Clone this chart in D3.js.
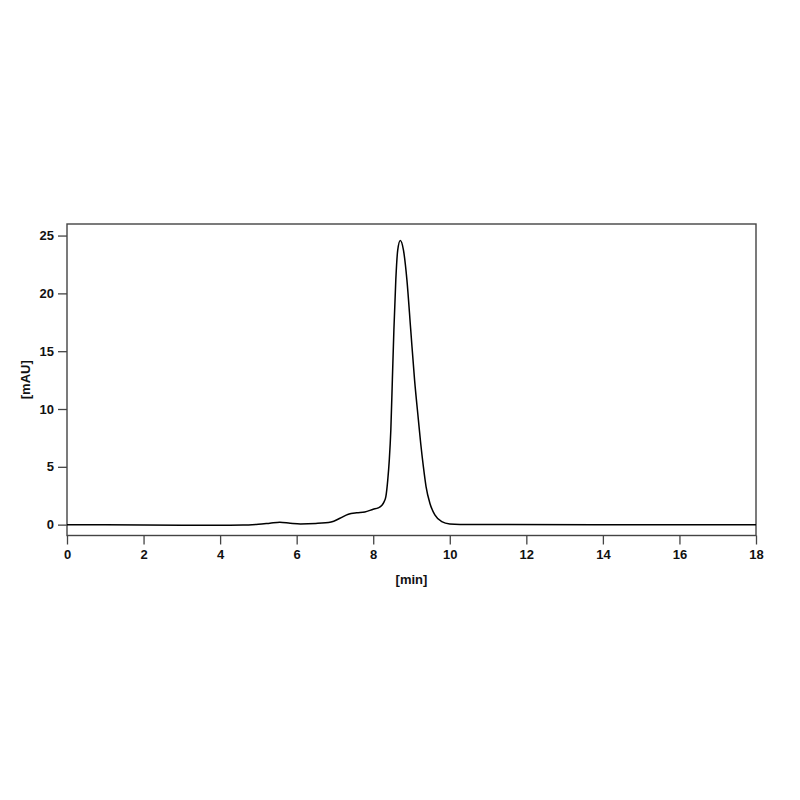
<!DOCTYPE html>
<html>
<head>
<meta charset="utf-8">
<script src="https://cdn.jsdelivr.net/npm/d3@7"></script>
<style>
  html, body { margin: 0; padding: 0; background: #fff; }
  svg { display: block; }
  text { font-family: "Liberation Sans", Arial, sans-serif; font-weight: bold; fill: #111; }
</style>
</head>
<body>
<svg id="chart" width="800" height="800"></svg>
<script>
// Chromatogram trace: retention time [min] and absorbance [mAU]
const timeMin = [0, 1, 2, 3, 4, 4.6, 5.0, 5.3, 5.56, 5.83, 6.1, 6.5, 6.9, 7.13, 7.35, 7.57, 7.78, 8.0, 8.13, 8.22, 8.28, 8.33, 8.38, 8.42, 8.46, 8.50, 8.54, 8.59, 8.64, 8.707, 8.79, 8.88, 8.98, 9.08, 9.18, 9.24, 9.31, 9.38, 9.48, 9.61, 9.79, 10.0, 10.27, 11, 14, 18];
const signalMAU = [0, -0.02, -0.04, -0.05, -0.05, -0.04, 0.03, 0.12, 0.2, 0.12, 0.06, 0.1, 0.23, 0.55, 0.9, 1.03, 1.1, 1.33, 1.45, 1.65, 1.95, 2.42, 3.87, 5.6, 8.19, 12.52, 16.84, 21.17, 23.74, 24.57, 23.74, 21.17, 16.84, 12.52, 9.06, 7.04, 5.02, 3.29, 1.85, 0.84, 0.26, 0.06, 0.02, 0.01, 0, 0];
const xTicks = [0, 2, 4, 6, 8, 10, 12, 14, 16, 18];
const yTicks = [0, 5, 10, 15, 20, 25];
const xLabel = "[min]";
const yLabel = "[mAU]";

(function () {
const svg = d3.select("#chart");
const mLeft = 67, mRight = 756, mTop = 224, mBottom = 535.5;

const x = d3.scaleLinear().domain([0, 18]).range([mLeft, mRight]);
const y = d3.scaleLinear().domain([-0.94, 26.0]).range([mBottom, mTop]);

const frameColor = "#444";

// axes
const xAxis = d3.axisBottom(x).tickValues(xTicks).tickSize(9).tickPadding(5).tickFormat(d3.format("d"));
const yAxis = d3.axisLeft(y).tickValues(yTicks).tickSize(9).tickPadding(4).tickFormat(d3.format("d"));

const gx = svg.append("g").attr("transform", `translate(0,${mBottom})`).call(xAxis);
const gy = svg.append("g").attr("transform", `translate(${mLeft},0)`).call(yAxis);
[gx, gy].forEach(g => {
  g.select(".domain").remove();
  g.selectAll(".tick line").attr("stroke", frameColor).attr("stroke-width", 1.3);
  g.selectAll(".tick text").style("font-size", "13px").style("font-family", "'Liberation Sans', Arial, sans-serif").style("font-weight", "bold").attr("fill", "#111");
});

// frame
svg.append("rect")
  .attr("x", mLeft).attr("y", mTop)
  .attr("width", mRight - mLeft).attr("height", mBottom - mTop)
  .attr("fill", "none").attr("stroke", frameColor).attr("stroke-width", 1.4);

// trace
const data = timeMin.map((t, i) => [t, signalMAU[i]]);
const line = d3.line().x(d => x(d[0])).y(d => y(d[1])).curve(d3.curveMonotoneX);
svg.append("path").datum(data)
  .attr("d", line)
  .attr("fill", "none").attr("stroke", "#000").attr("stroke-width", 1.5)
  .attr("stroke-linejoin", "round");

// labels
svg.append("text").attr("x", (mLeft + mRight) / 2).attr("y", 584)
  .attr("text-anchor", "middle").style("font-size", "13px").text(xLabel);
svg.append("text")
  .attr("transform", `translate(30,${(mTop + mBottom) / 2}) rotate(-90)`)
  .attr("text-anchor", "middle").style("font-size", "13px").text(yLabel);
})();
</script>
</body>
</html>
